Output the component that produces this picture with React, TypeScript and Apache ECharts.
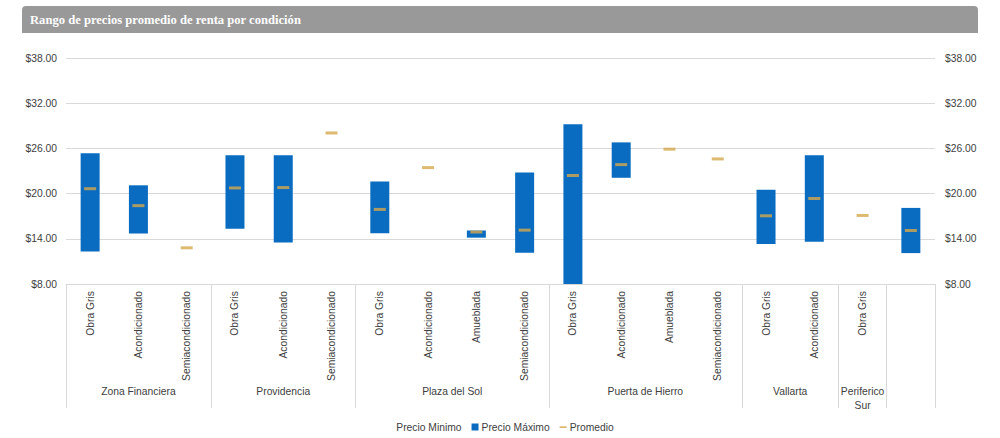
import React, { useEffect, useRef } from "react";
import * as echarts from "echarts";

const TITLE = "Rango de precios promedio de renta por condición";

const groupNames = ["Zona Financiera", "Providencia", "Plaza del Sol", "Puerta de Hierro", "Vallarta", "Periferico\nSur", ""];
const groupSizes = [3, 3, 4, 4, 2, 1, 1];

const conditions = [
  "Obra Gris", "Acondicionado", "Semiacondicionado",
  "Obra Gris", "Acondicionado", "Semiacondicionado",
  "Obra Gris", "Acondicionado", "Amueblada", "Semiacondicionado",
  "Obra Gris", "Acondicionado", "Amueblada", "Semiacondicionado",
  "Obra Gris", "Acondicionado",
  "Obra Gris",
  "",
];

const minPrices = [12.3, 14.7, null, 15.35, 13.5, null, 14.75, null, 14.15, 12.15, 8.0, 22.1, null, null, 13.3, 13.6, null, 12.1];
const maxPrices = [25.35, 21.1, null, 25.1, 25.1, null, 21.6, null, 15.1, 22.8, 29.2, 26.8, null, null, 20.5, 25.1, null, 18.1];
const avgPrices = [20.65, 18.4, 12.8, 20.75, 20.8, 28.05, 17.9, 23.45, 14.9, 15.15, 22.4, 23.85, 25.9, 24.6, 17.05, 19.35, 17.1, 15.1];

const yTicks = { min: 8, max: 38, interval: 6 };

const BLUE = "#0A6CC0";
const GOLD = "#D4A94C";
const TEXT = "#404040";
const GRIDLINE = "#D9D9D9";
const FONT = "Liberation Sans, Arial, sans-serif";
const FS = 10.3;

export default function App() {
  const ref = useRef<HTMLDivElement>(null);

  useEffect(() => {
    if (!ref.current) return;
    const chart = echarts.init(ref.current, null, { renderer: "svg" });

    const boundaries: number[] = [0];
    groupSizes.forEach((s) => boundaries.push(boundaries[boundaries.length - 1] + s));
    const centers = groupSizes.map((s, i) => boundaries[i] + s / 2);
    const centerName = (v: number) => {
      const idx = centers.findIndex((c) => Math.abs(c - v) < 1e-6);
      return idx >= 0 ? groupNames[idx] : "";
    };

    const diff = minPrices.map((mn, i) => {
      const mx = maxPrices[i];
      return mn == null || mx == null ? null : +(mx - mn).toFixed(3);
    });

    const money = (v: number) => "$" + v.toFixed(2);

    chart.setOption({
      animation: false,
      textStyle: { fontFamily: FONT },
      graphic: [
        {
          type: "rect",
          left: 22,
          top: 6,
          shape: { width: 956, height: 27, r: [4, 4, 0, 0] },
          style: { fill: "#999999" },
          z: 0,
        },
      ],
      title: {
        text: TITLE,
        left: 22,
        top: 6,
        padding: [7, 8],
        textStyle: {
          color: "#FFFFFF",
          fontWeight: "bold",
          fontFamily: "Liberation Serif, Times New Roman, serif",
          fontSize: 12.6,
        },
      },
      legend: {
        bottom: 1,
        left: "center",
        itemWidth: 7,
        itemHeight: 7,
        itemGap: 10,
        textStyle: { color: TEXT, fontSize: FS, fontFamily: FONT, padding: [0, 0, 0, -2] },
        data: [
          { name: "Precio Minimo", icon: "rect" },
          { name: "Precio Máximo", icon: "rect" },
          {
            name: "Promedio",
            icon: "path://M0,0h0.01v0.01h-0.01Z M0,3h8v2h-8Z M7.99,7.99h0.01v0.01h-0.01Z",
          },
        ],
      },
      grid: { left: 66, right: 65, top: 58, bottom: 154 },
      xAxis: [
        {
          type: "category",
          data: conditions,
          position: "bottom",
          axisLine: { show: true, lineStyle: { color: GRIDLINE } },
          axisTick: { show: false },
          axisLabel: {
            interval: 0,
            rotate: 90,
            margin: 7,
            color: TEXT,
            fontSize: FS,
            fontFamily: FONT,
          },
        },
        {
          type: "value",
          min: 0,
          max: boundaries[boundaries.length - 1],
          position: "bottom",
          offset: 0,
          axisLine: { show: false },
          splitLine: { show: false },
          axisTick: {
            show: true,
            customValues: boundaries,
            length: 124,
            lineStyle: { color: GRIDLINE },
          },
          axisLabel: {
            customValues: centers,
            formatter: (v: number) => centerName(v),
            margin: 100,
            color: TEXT,
            fontSize: FS,
            lineHeight: 14,
            fontFamily: FONT,
          },
        },
      ],
      yAxis: [
        {
          type: "value",
          position: "left",
          min: yTicks.min,
          max: yTicks.max,
          interval: yTicks.interval,
          axisLine: { show: false },
          axisTick: { show: false },
          splitLine: { show: true, lineStyle: { color: GRIDLINE } },
          axisLabel: { formatter: money, color: TEXT, fontSize: FS, margin: 9, fontFamily: FONT },
        },
        {
          type: "value",
          position: "right",
          min: yTicks.min,
          max: yTicks.max,
          interval: yTicks.interval,
          axisLine: { show: false },
          axisTick: { show: false },
          splitLine: { show: false },
          axisLabel: { formatter: money, color: TEXT, fontSize: FS, margin: 10, fontFamily: FONT },
        },
      ],
      series: [
        {
          name: "Precio Minimo",
          type: "bar",
          stack: "rango",
          xAxisIndex: 0,
          yAxisIndex: 0,
          data: minPrices,
          barWidth: 19,
          itemStyle: { color: "transparent" },
          silent: true,
        },
        {
          name: "Precio Máximo",
          type: "bar",
          stack: "rango",
          xAxisIndex: 0,
          yAxisIndex: 0,
          data: diff,
          barWidth: 19,
          itemStyle: { color: BLUE },
        },
        {
          name: "Promedio",
          type: "scatter",
          xAxisIndex: 0,
          yAxisIndex: 0,
          data: avgPrices,
          symbol: "rect",
          symbolSize: [12, 3],
          itemStyle: { color: GOLD },
          z: 5,
        },
      ],
    });

    return () => chart.dispose();
  }, []);

  return (
    <div
      ref={ref}
      style={{ position: "absolute", left: 0, top: 0, width: 1000, height: 438, background: "#FFFFFF" }}
    />
  );
}
